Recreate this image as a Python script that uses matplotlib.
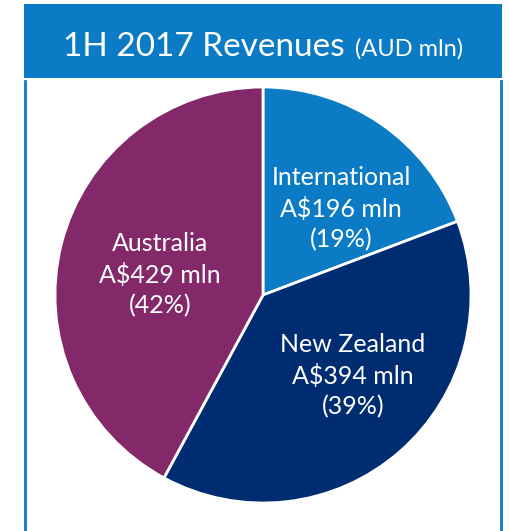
import matplotlib.pyplot as plt
from matplotlib.patches import Rectangle

segments = ['International', 'New Zealand', 'Australia']
revenues = [196, 394, 429]
shares = ['19%', '39%', '42%']
colors = ['#0a7bc4', '#002d72', '#832868']

W, H = 510, 531
header_blue = '#0a7bc4'


def main():
    fig = plt.figure(figsize=(W / 100, H / 100), dpi=100)
    ax = fig.add_axes([0, 0, 1, 1])

    # pie in pixel coordinates (y measured from the bottom)
    cx, cy, r = 263, H - 295, 208
    ax.pie(revenues, colors=colors, startangle=90, counterclock=False,
           center=(cx, cy), radius=r,
           wedgeprops=dict(edgecolor='white', linewidth=2))
    ax.set_xlim(0, W)
    ax.set_ylim(0, H)
    ax.set_aspect('auto')
    ax.axis('off')

    # header box and frame
    ax.add_patch(Rectangle((24, H - 78), 478, 74, facecolor=header_blue,
                           edgecolor='none', zorder=3))
    ax.plot([25, 25], [0, H - 81], color=header_blue, lw=2, zorder=3)
    ax.plot([501, 501], [0, H - 81], color=header_blue, lw=2, zorder=3)

    ax.text(63, H - 56, '1H 2017 Revenues', color='white', fontsize=24,
            family='Lato', ha='left', va='baseline', zorder=4)
    ax.text(463, H - 56, '(AUD mln)', color='white', fontsize=17,
            family='Lato', ha='right', va='baseline', zorder=4)

    # labels
    label_pos = [(341, 209), (353, 376), (160, 275)]
    for name, val, pct, (x, y) in zip(segments, revenues, shares, label_pos):
        ax.text(x, H - y, f'{name}\nA${val} mln\n({pct})', color='white',
                fontsize=18, family='Lato', ha='center', va='center',
                linespacing=1.38)

    fig.savefig('out.png', dpi=100)


if __name__ == '__main__':
    main()
